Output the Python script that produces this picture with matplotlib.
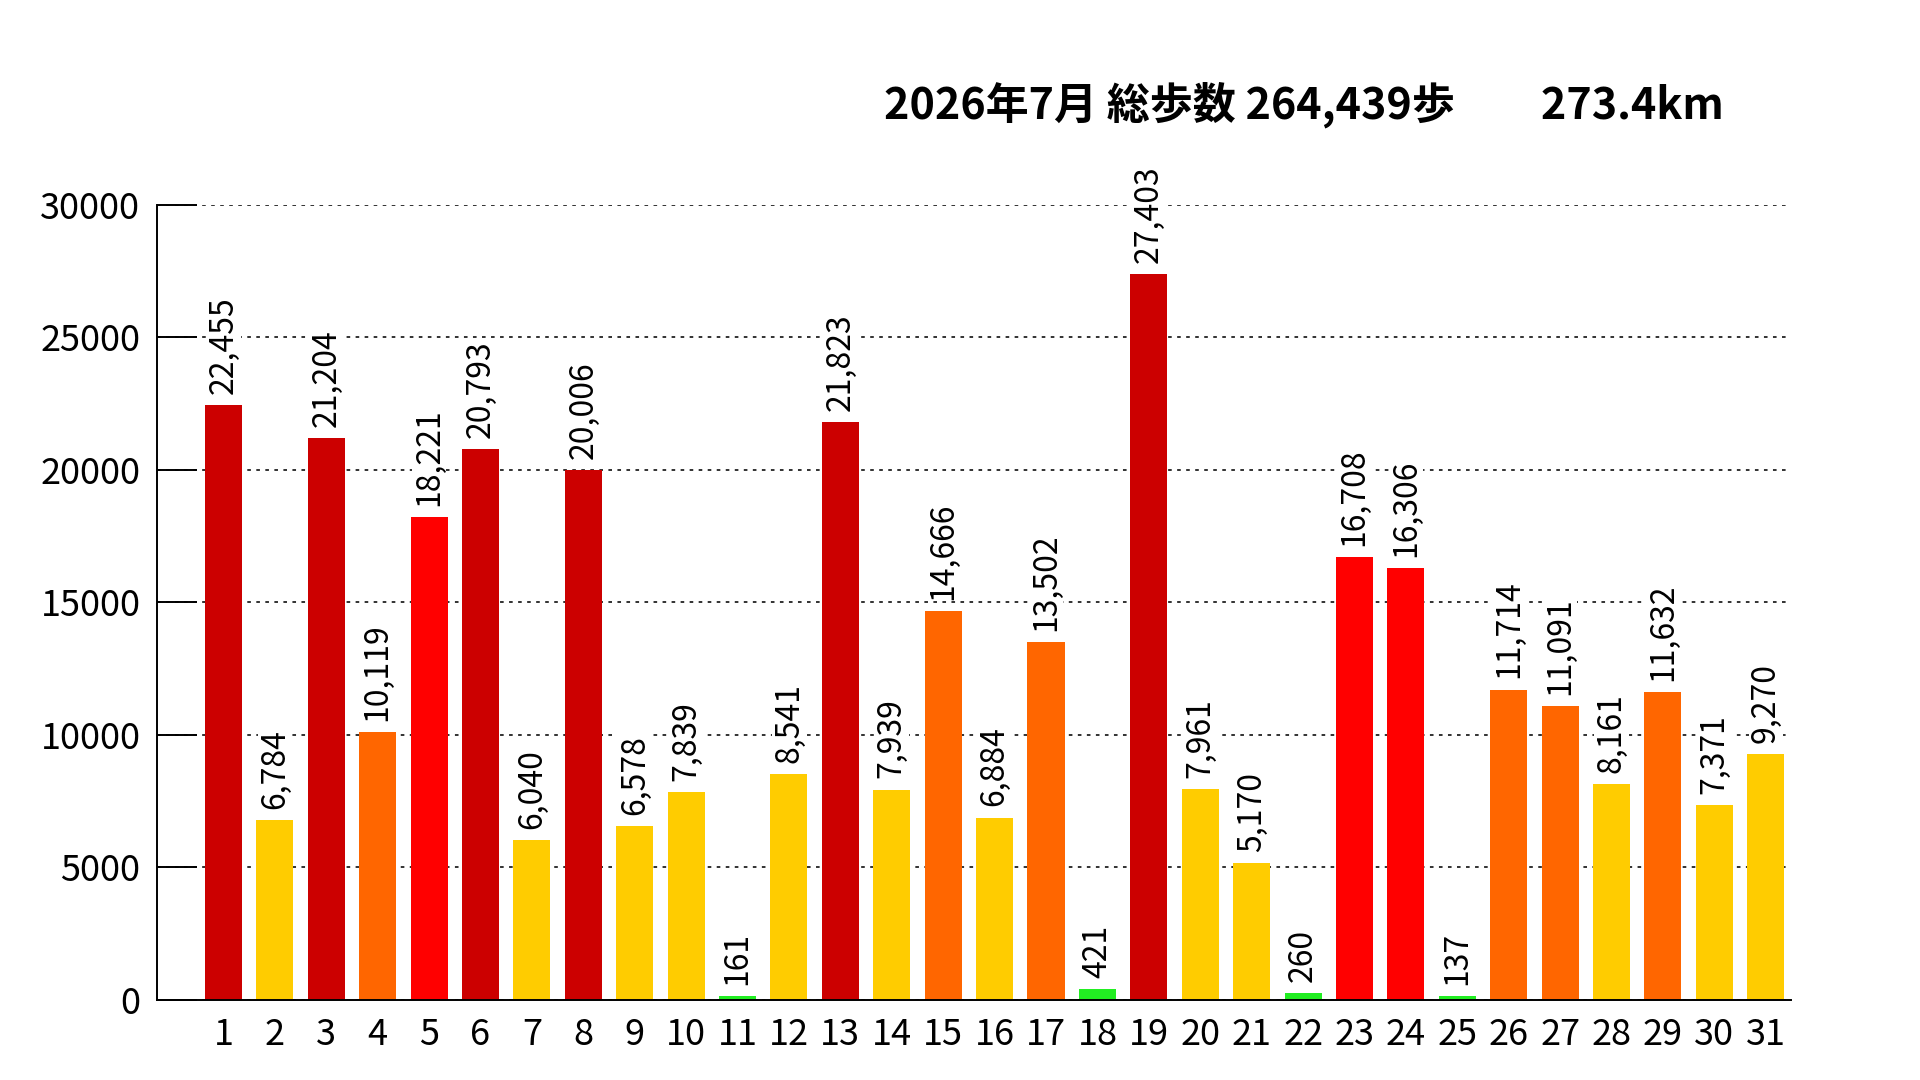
import matplotlib
matplotlib.use("Agg")
import matplotlib.pyplot as plt

plt.rcParams['font.family'] = ['Noto Sans CJK JP', 'DejaVu Sans']

days = list(range(1, 32))
steps = [22455, 6784, 21204, 10119, 18221, 20793, 6040, 20006, 6578, 7839,
         161, 8541, 21823, 7939, 14666, 6884, 13502, 421, 27403, 7961,
         5170, 260, 16708, 16306, 137, 11714, 11091, 8161, 11632, 7371, 9270]
title = "2026年7月 総歩数 264,439歩　　273.4km"


def bar_color(v):
    if v >= 20000:
        return '#CC0000'
    if v >= 15000:
        return '#FF0000'
    if v >= 10000:
        return '#FF6600'
    if v >= 1000:
        return '#FFCC00'
    return '#22EE22'


colors = [bar_color(v) for v in steps]

fig = plt.figure(figsize=(19.2, 10.8), dpi=100)
ax = fig.add_axes([0.0818, 0.0741, 0.851, 0.7361])

ax.bar(days, steps, width=0.72, color=colors, zorder=2)

# value labels, white box hides the grid behind them
for d, v in zip(days, steps):
    ax.annotate(f"{v:,}", (d, v), xytext=(0, 8), textcoords='offset points',
                rotation=90, ha='center', va='bottom', fontsize=23, zorder=3,
                bbox=dict(facecolor='white', edgecolor='none', pad=1))

ax.set_xlim(-0.29, 31.49)
ax.set_ylim(0, 30000)
ax.set_yticks(range(0, 30001, 5000))
ax.set_xticks(days)
ax.set_xticklabels([str(d) for d in days])
ax.yaxis.grid(True, linestyle=(0, (2, 3)), color='#222222', linewidth=1.3)
ax.set_axisbelow(True)

ax.tick_params(axis='y', direction='in', length=29, width=1.4, labelsize=26, pad=12)
ax.tick_params(axis='x', length=0, labelsize=26, pad=12)

for s in ['top', 'right']:
    ax.spines[s].set_visible(False)
ax.spines['left'].set_linewidth(1.4)
ax.spines['bottom'].set_linewidth(1.4)

fig.text(0.679, 0.903, title, ha='center', va='center', fontsize=31, fontweight='bold')

fig.savefig("out.png", dpi=100)
